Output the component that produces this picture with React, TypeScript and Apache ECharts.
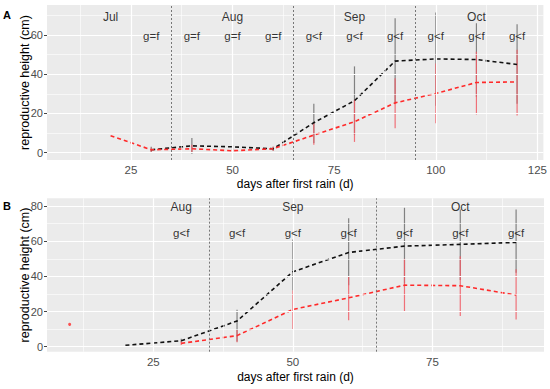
import React, { useEffect, useRef } from "react";
import * as echarts from "echarts";

// ---------- Panel A data ----------
const A_days = [20, 30, 40, 50, 60, 70, 80, 90, 100, 110, 120];
const A_f: (number | null)[] = [null, 1.5, 3.5, 3, 2, 15.3, 26.5, 46.7, 47.8, 47.5, 45];
const A_g: (number | null)[] = [8.7, 1.5, 2, 1, 2, 9, 15.8, 25.4, 30.2, 35.8, 36.1];
const A_fLow: (number | null)[] = [null, 0, -0.5, 1, 1, 5, 9, 25, 24, 28.5, 25];
const A_fHigh: (number | null)[] = [null, 3, 7.5, 4, 3, 25, 44, 68.5, 71.5, 66, 65.5];
const A_gLow: (number | null)[] = [null, 0.5, 0, 0, 1, 4, 5.5, 12.5, 15, 19.5, 19];
const A_gHigh: (number | null)[] = [null, 2.5, 4, 2, 3, 15, 27, 38, 45.5, 51.5, 52.5];
const A_cmpDays = [30, 40, 50, 60, 70, 80, 90, 100, 110, 120];
const A_cmp = ["g=f", "g=f", "g=f", "g=f", "g<f", "g<f", "g<f", "g<f", "g<f", "g<f"];
const A_months = ["Jul", "Aug", "Sep", "Oct"];
const A_monthDays = [20, 50, 80, 110];
const A_monthBreaks = [35, 65, 95];

// ---------- Panel B data ----------
const B_days = [10, 20, 30, 40, 50, 60, 70, 80, 90];
const B_f: (number | null)[] = [null, 0.8, 3.4, 14.6, 42.6, 53.6, 57.2, 58.2, 59.3];
const B_g: (number | null)[] = [null, null, 1.9, 6.3, 21.2, 27.8, 35, 34.7, 29.4];
const B_fLow: (number | null)[] = [null, null, 2.5, 3, 32, 35, 36, 38, 42];
const B_fHigh: (number | null)[] = [null, null, 4.5, 21, 61, 73, 79, 78, 78];
const B_gLow: (number | null)[] = [null, null, 1, 2.5, 10, 15, 20, 17.5, 15.5];
const B_gHigh: (number | null)[] = [null, null, 3, 9.5, 32, 40, 50, 51.5, 44];
const B_lone = [[10, 12.7]];
const B_cmpDays = [30, 40, 50, 60, 70, 80, 90];
const B_cmp = ["g<f", "g<f", "g<f", "g<f", "g<f", "g<f", "g<f"];
const B_months = ["Aug", "Sep", "Oct"];
const B_monthDays = [30, 50, 80];
const B_monthBreaks = [35, 65];

// ---------- ticks ----------
const A_xMajor = [25, 50, 75, 100, 125];
const A_xMinor = [12.5, 37.5, 62.5, 87.5, 112.5];
const A_yMajor = [0, 20, 40, 60];
const A_yMinor = [10, 30, 50, 70];
const B_xMajor = [25, 50, 75];
const B_xMinor = [12.5, 37.5, 62.5, 87.5];
const B_yMajor = [0, 20, 40, 60, 80];
const B_yMinor = [10, 30, 50, 70];

const FONT = "'Liberation Sans', Arial, sans-serif";
const BLACK = "#111111";
const RED = "#ff2a2a";
const BAR_BLACK = "rgba(110,110,110,0.85)";
const BAR_RED = "rgba(240,90,100,0.85)";

function pairs(xs: number[], ys: (number | null)[]) {
  return xs.map((x, i) => [x, ys[i]]).filter((p) => p[1] !== null);
}

function lineData(xs: number[], ys: (number | null)[], endText: string, color: string) {
  const d: any[] = pairs(xs, ys);
  const last = d.length - 1;
  return d.map((p, i) =>
    i === last
      ? {
          value: p,
          label: {
            show: true,
            position: "right",
            distance: 1,
            formatter: endText,
            color,
            fontFamily: FONT,
            fontSize: 13,
          },
        }
      : p
  );
}

function barData(xs: number[], lo: (number | null)[], hi: (number | null)[]) {
  const out: number[][] = [];
  xs.forEach((x, i) => {
    if (lo[i] !== null && hi[i] !== null) out.push([x, lo[i] as number, hi[i] as number]);
  });
  return out;
}

function errorSeries(idx: number, data: number[][], color: string, z: number) {
  return {
    type: "custom",
    xAxisIndex: idx,
    yAxisIndex: idx,
    z,
    silent: true,
    renderItem: (params: any, api: any) => {
      const x = api.value(0);
      const p1 = api.coord([x, api.value(1)]);
      const p2 = api.coord([x, api.value(2)]);
      return {
        type: "line",
        shape: { x1: p1[0], y1: p1[1], x2: p2[0], y2: p2[1] },
        style: { stroke: color, lineWidth: 1.2 },
      };
    },
    encode: { x: 0, y: [1, 2] },
    data,
  };
}

function gridSeries(idx: number, xMaj: number[], xMin: number[], yMaj: number[], yMin: number[], breaks: number[]) {
  const ml = (v: number, axis: string, w: number) => ({
    [axis]: v,
    lineStyle: { color: "#ffffff", width: w, type: "solid" },
  });
  return [
    {
      type: "line",
      xAxisIndex: idx,
      yAxisIndex: idx,
      data: [],
      z: 0,
      silent: true,
      markLine: {
        silent: true,
        symbol: "none",
        label: { show: false },
        animation: false,
        data: [
          ...xMin.map((v) => ml(v, "xAxis", 0.6)),
          ...yMin.map((v) => ml(v, "yAxis", 0.6)),
          ...xMaj.map((v) => ml(v, "xAxis", 1.2)),
          ...yMaj.map((v) => ml(v, "yAxis", 1.2)),
        ],
      },
    },
    {
      type: "line",
      xAxisIndex: idx,
      yAxisIndex: idx,
      data: [],
      z: 1,
      silent: true,
      markLine: {
        silent: true,
        symbol: "none",
        label: { show: false },
        animation: false,
        data: breaks.map((v) => ({
          xAxis: v,
          lineStyle: { color: "#777777", width: 1, type: [2, 2] },
        })),
      },
    },
  ];
}

function textSeries(idx: number, xs: number[], y: number, texts: string[], size: number) {
  return {
    type: "scatter",
    xAxisIndex: idx,
    yAxisIndex: idx,
    symbolSize: 0,
    silent: true,
    z: 5,
    data: xs.map((x, i) => ({ value: [x, y], name: texts[i] })),
    label: {
      show: true,
      position: "inside",
      formatter: (p: any) => p.name,
      color: "#000",
      fontFamily: FONT,
      fontSize: size,
    },
  };
}

function dashLine(idx: number, data: any[], color: string) {
  return {
    type: "line",
    xAxisIndex: idx,
    yAxisIndex: idx,
    z: 4,
    symbol: "none",
    silent: true,
    lineStyle: { color, width: 1.6, type: [4, 3] },
    data,
  };
}

function xAxisCfg(idx: number, min: number, max: number, ticks: number[], gap: number) {
  return {
    type: "value",
    gridIndex: idx,
    min,
    max,
    name: "days after first rain (d)",
    nameLocation: "middle",
    nameGap: gap,
    nameMoveOverlap: false,
    nameTextStyle: { color: "#000", fontFamily: FONT, fontSize: 12 },
    axisLine: { show: false },
    splitLine: { show: false },
    axisTick: { show: true, customValues: ticks, length: 3, lineStyle: { color: "#444" } },
    axisLabel: { customValues: ticks, color: "#4d4d4d", fontFamily: FONT, fontSize: 11.5, margin: 4 },
  };
}

function yAxisCfg(idx: number, min: number, max: number, ticks: number[]) {
  return {
    type: "value",
    gridIndex: idx,
    min,
    max,
    name: "reproductive height (cm)",
    nameLocation: "middle",
    nameGap: 16,
    nameMoveOverlap: false,
    nameTextStyle: { color: "#000", fontFamily: FONT, fontSize: 12.5 },
    axisLine: { show: false },
    splitLine: { show: false },
    axisTick: { show: true, customValues: ticks, length: 3, lineStyle: { color: "#444" } },
    axisLabel: { customValues: ticks, color: "#4d4d4d", fontFamily: FONT, fontSize: 11, margin: 4 },
  };
}

export default function App() {
  const ref = useRef<HTMLDivElement>(null);
  useEffect(() => {
    if (!ref.current) return;
    const chart = echarts.init(ref.current, null, { renderer: "svg" });
    const option: any = {
      animation: false,
      backgroundColor: "#ffffff",
      grid: [
        { left: 47, top: 5, width: 497, height: 155, show: true, backgroundColor: "#EBEBEB", borderWidth: 0 },
        { left: 47, top: 198.3, width: 497, height: 153.4, show: true, backgroundColor: "#EBEBEB", borderWidth: 0 },
      ],
      xAxis: [xAxisCfg(0, 4.36, 126.47, A_xMajor, 18), xAxisCfg(1, 5.95, 95.0, B_xMajor, 19)],
      yAxis: [yAxisCfg(0, -3.72, 75.3, A_yMajor), yAxisCfg(1, -2.84, 84.4, B_yMajor)],
      graphic: [
        { type: "text", left: 3, top: 9, style: { text: "A", font: "bold 11px 'Liberation Sans', sans-serif", fill: "#000" } },
        { type: "text", left: 3, top: 200, style: { text: "B", font: "bold 11px 'Liberation Sans', sans-serif", fill: "#000" } },
      ],
      series: [
        ...gridSeries(0, A_xMajor, A_xMinor, A_yMajor, A_yMinor, A_monthBreaks),
        ...gridSeries(1, B_xMajor, B_xMinor, B_yMajor, B_yMinor, B_monthBreaks),
        errorSeries(0, barData(A_days, A_fLow, A_fHigh), BAR_BLACK, 2),
        errorSeries(0, barData(A_days, A_gLow, A_gHigh), BAR_RED, 3),
        errorSeries(1, barData(B_days, B_fLow, B_fHigh), BAR_BLACK, 2),
        errorSeries(1, barData(B_days, B_gLow, B_gHigh), BAR_RED, 3),
        dashLine(0, lineData(A_days, A_f, "f", BLACK), BLACK),
        dashLine(0, lineData(A_days, A_g, "g", RED), RED),
        dashLine(1, lineData(B_days, B_f, "f", BLACK), BLACK),
        dashLine(1, lineData(B_days, B_g, "g", RED), RED),
        {
          type: "scatter",
          xAxisIndex: 1,
          yAxisIndex: 1,
          symbolSize: 3,
          itemStyle: { color: RED },
          silent: true,
          data: B_lone,
        },
        textSeries(0, A_cmpDays, 59.4, A_cmp, 11.5),
        textSeries(0, A_monthDays, 69.2, A_months, 12),
        textSeries(1, B_cmpDays, 64.4, B_cmp, 11.5),
        textSeries(1, B_monthDays, 79.5, B_months, 12),
      ],
    };
    chart.setOption(option);
    return () => chart.dispose();
  }, []);
  return <div ref={ref} style={{ position: "absolute", left: 0, top: 0, width: 550, height: 389 }} />;
}
